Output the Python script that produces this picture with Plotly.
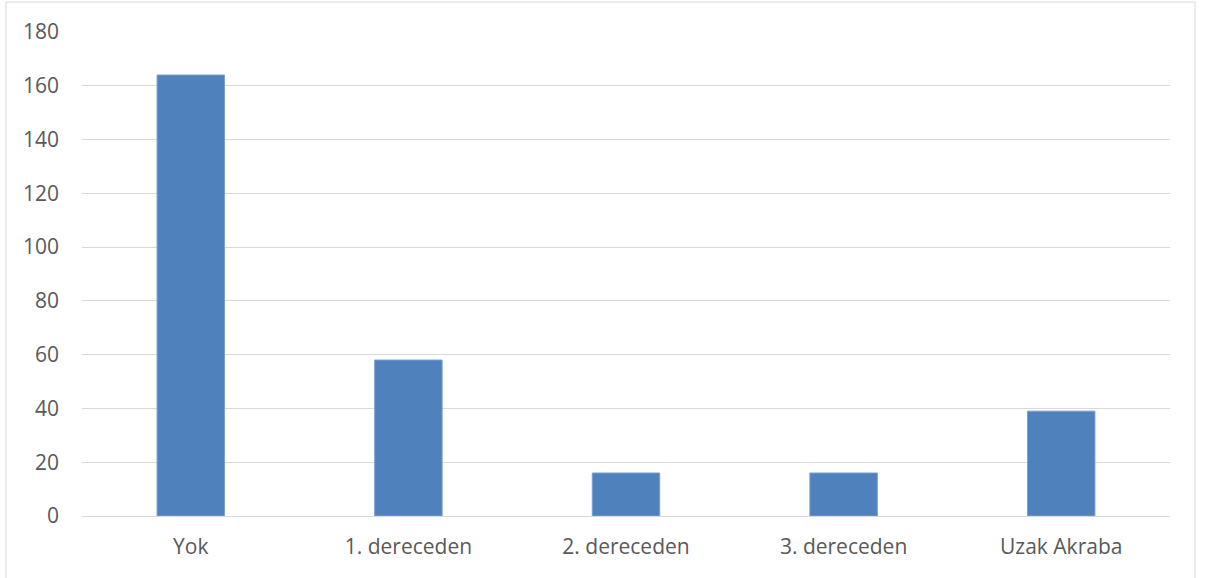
import plotly.graph_objects as go

categories = ["Yok", "1. dereceden", "2. dereceden", "3. dereceden", "Uzak Akraba"]
counts = [164, 58, 16, 16, 39]
y_ticks = [0, 20, 40, 60, 80, 100, 120, 140, 160, 180]

fig = go.Figure(
    go.Bar(
        x=categories,
        y=counts,
        marker=dict(color="#4f81bd", line=dict(color="#7aa0d0", width=1)),
        hoverinfo="x+y",
    )
)

fig.update_layout(
    width=1205,
    height=578,
    margin=dict(l=82, r=35, t=32, b=62),
    paper_bgcolor="white",
    plot_bgcolor="white",
    bargap=0.69,
    showlegend=False,
    font=dict(family="Open Sans, Liberation Sans, sans-serif", size=21, color="#595959"),
    shapes=[
        dict(
            type="rect", xref="paper", yref="paper",
            x0=-0.0699, x1=1.0230, y0=-0.14, y1=1.0620,
            line=dict(color="#d9d9d9", width=1), fillcolor="rgba(0,0,0,0)",
            layer="below",
        )
    ],
)

fig.update_xaxes(
    showgrid=False,
    showline=True,
    linecolor="#d9d9d9",
    linewidth=1,
    ticks="",
    ticklabelstandoff=12,
    tickfont=dict(size=21, color="#595959"),
)
fig.update_yaxes(
    range=[0, 180],
    tickvals=y_ticks,
    showgrid=True,
    gridcolor="#d9d9d9",
    gridwidth=1,
    zeroline=False,
    showline=False,
    ticks="",
    ticklabelstandoff=22,
    tickfont=dict(size=21, color="#595959"),
)

fig.write_html("out.html")
